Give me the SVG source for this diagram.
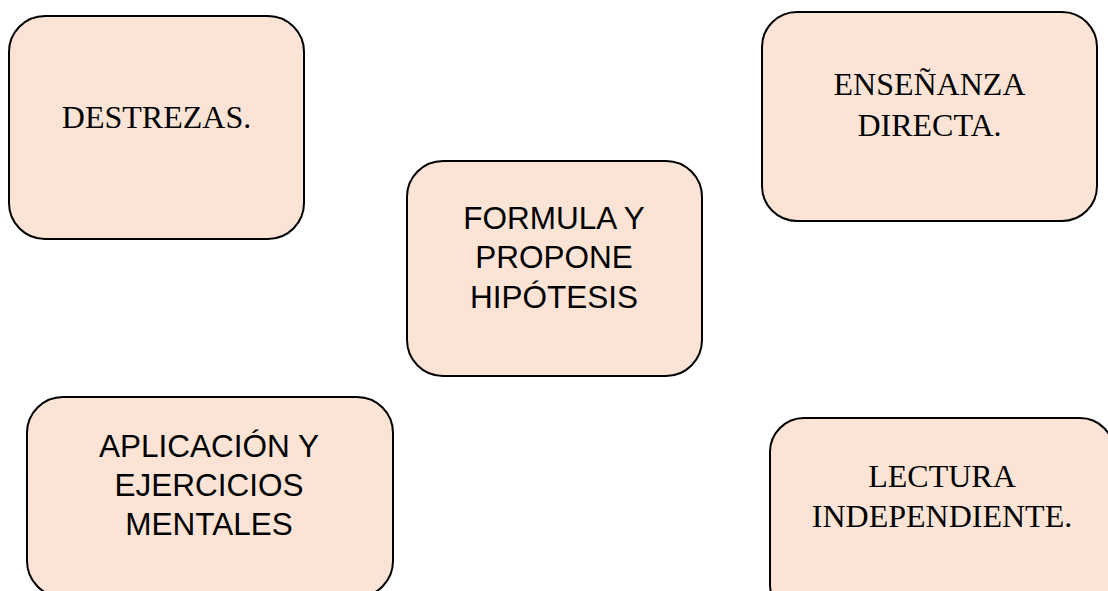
<svg xmlns="http://www.w3.org/2000/svg" width="1108" height="591" viewBox="0 0 1108 591">
<style>
.box{fill:#FBE4D5;stroke:#000;stroke-width:2}
.tr{font-family:"Liberation Serif",serif;font-size:32px;fill:#000;text-anchor:middle}
.ar{font-family:"Liberation Sans",sans-serif;font-size:31.5px;fill:#000;text-anchor:middle}
</style>
<rect width="1108" height="591" fill="#fff"/>
<g id="connectors"></g>
<g id="destrezas">
<rect class="box" x="9" y="16" width="295" height="223" rx="36" ry="36"/>
<text class="tr" x="156.5" y="128">DESTREZAS.</text>
</g>
<g id="ensenanza">
<rect class="box" x="762" y="12" width="335" height="209" rx="35" ry="35"/>
<text class="tr" x="929.5" y="95">ENSEÑANZA</text>
<text class="tr" x="929.5" y="136">DIRECTA.</text>
</g>
<g id="formula">
<rect class="box" x="407" y="161" width="295" height="215" rx="36" ry="36"/>
<text class="ar" x="554" y="229">FORMULA Y</text>
<text class="ar" x="554" y="268">PROPONE</text>
<text class="ar" x="554" y="308">HIPÓTESIS</text>
</g>
<g id="aplicacion">
<rect class="box" x="27" y="397" width="366" height="200" rx="36" ry="36"/>
<text class="ar" x="209" y="457">APLICACIÓN Y</text>
<text class="ar" x="209" y="496">EJERCICIOS</text>
<text class="ar" x="209" y="535">MENTALES</text>
</g>
<g id="lectura">
<rect class="box" x="770" y="418" width="344" height="200" rx="34" ry="34"/>
<text class="tr" x="942" y="487">LECTURA</text>
<text class="tr" x="942" y="527">INDEPENDIENTE.</text>
</g>
</svg>
